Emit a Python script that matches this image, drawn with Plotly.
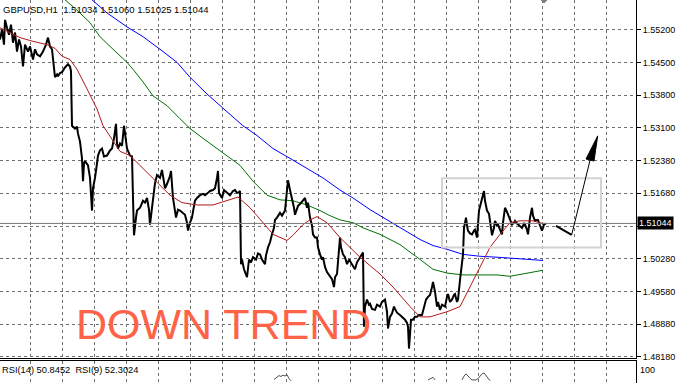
import plotly.graph_objects as go

# ---------------- data ----------------
bars = [0,2,4,5,7,9,11,13,15,17,19,21,23,25,28,30,33,35,37,40,43,46,48,50,52,53,55,57,58,60,62,65,68,70,71,72,75,77,78,80,82,83,84,85,88,90,92,93,95,97,98,100,102,104,107,110,112,114,116,117,118,120,122,124,126,127,130,132,133,134,136,137,140,143,145,147,149,150,152,153,155,157,160,162,164,165,167,168,170,171,173,176,178,180,183,185,187,188,190,192,194,195,197,200,203,205,208,210,213,215,217,218,219,222,224,225,228,230,233,235,237,238,240,241,242,244,247,249,251,253,256,258,260,262,265,266,268,270,272,274,275,277,280,282,285,287,288,290,292,294,295,297,298,300,303,305,307,308,310,312,313,315,317,318,320,322,323,325,327,329,330,332,334,335,337,338,340,341,343,345,347,349,352,355,357,360,362,363,364,365,367,369,370,372,375,377,380,382,385,387,388,390,392,394,395,397,400,402,405,407,408,409,410,411,413,415,417,419,422,424,426,428,430,432,433,435,437,438,440,442,445,447,448,450,452,454,455,457,458,460,462,463,464,465,466,467,468,470,472,474,475,477,478,479,481,482,483,484,485,487,489,490,491,492,494,495,497,498,500,502,503,505,507,508,510,512,514,515,517,518,520,522,524,525,527,528,530,532,533,535,537,538,540,542,543,544,546]

close = [1.5499,1.5520,1.5488,1.5541,1.5524,1.5509,1.5531,1.5492,1.5514,1.5473,1.5499,1.5484,1.5441,1.5488,1.5473,1.5484,1.5456,1.5478,1.5467,1.5463,
         1.5473,1.5488,1.5503,1.5484,1.5478,1.5452,1.5418,1.5424,1.5420,1.5427,1.5429,1.5439,1.5446,1.5441,1.5431,1.5314,1.5308,1.5312,1.5297,1.5280,
         1.5244,1.5195,1.5233,1.5238,1.5229,1.5202,1.5132,1.5180,1.5202,1.5233,1.5250,1.5261,1.5265,1.5248,1.5250,1.5261,1.5265,1.5287,1.5318,1.5276,
         1.5265,1.5276,1.5271,1.5314,1.5287,1.5265,1.5250,1.5248,1.5159,1.5079,1.5117,1.5132,1.5138,1.5153,1.5149,1.5159,1.5134,1.5102,1.5138,1.5159,
         1.5191,1.5208,1.5202,1.5219,1.5191,1.5180,1.5189,1.5195,1.5206,1.5217,1.5159,1.5117,1.5134,1.5132,1.5127,1.5123,1.5106,1.5089,1.5106,1.5117,
         1.5142,1.5153,1.5159,1.5165,1.5168,1.5165,1.5170,1.5174,1.5176,1.5180,1.5202,1.5217,1.5170,1.5159,1.5176,1.5174,1.5170,1.5165,1.5174,1.5176,
         1.5170,1.5170,1.5174,1.5017,1.5027,1.5006,1.4989,1.5027,1.5021,1.5032,1.5027,1.5040,1.5038,1.5027,1.5017,1.5036,1.5053,1.5064,1.5081,1.5095,
         1.5112,1.5117,1.5127,1.5121,1.5132,1.5170,1.5197,1.5176,1.5159,1.5138,1.5123,1.5138,1.5142,1.5146,1.5153,1.5159,1.5138,1.5149,1.5117,1.5100,
         1.5081,1.5074,1.5074,1.5053,1.5038,1.5027,1.5032,1.5011,1.5000,1.4994,1.4989,1.4985,1.4968,1.4989,1.4996,1.5021,1.5074,1.5053,1.5038,1.5032,
         1.5017,1.5027,1.5017,1.5006,1.5021,1.5032,1.5038,1.5042,1.4883,1.4926,1.4941,1.4930,1.4932,1.4921,1.4919,1.4930,1.4926,1.4936,1.4941,1.4915,
         1.4879,1.4904,1.4911,1.4926,1.4921,1.4913,1.4908,1.4904,1.4898,1.4891,1.4883,1.4836,1.4872,1.4898,1.4898,1.4904,1.4904,1.4908,1.4908,1.4926,
         1.4941,1.4947,1.4951,1.4968,1.4979,1.4958,1.4926,1.4936,1.4919,1.4930,1.4926,1.4947,1.4953,1.4936,1.4941,1.4951,1.4953,1.4936,1.4941,1.4983,
         1.5021,1.5038,1.5095,1.5106,1.5117,1.5100,1.5089,1.5083,1.5081,1.5089,1.5091,1.5074,1.5100,1.5132,1.5149,1.5159,1.5170,1.5174,1.5153,1.5132,
         1.5125,1.5112,1.5095,1.5079,1.5095,1.5110,1.5100,1.5102,1.5091,1.5081,1.5106,1.5138,1.5129,1.5123,1.5112,1.5102,1.5106,1.5110,1.5104,1.5102,
         1.5098,1.5095,1.5104,1.5102,1.5091,1.5081,1.5117,1.5138,1.5121,1.5110,1.5112,1.5112,1.5100,1.5089,1.5095,1.5102,1.51044]

ma_red_x = [0,10,20,33,47,55,62,70,77,87,97,103,113,120,130,140,150,160,170,182,197,213,227,238,247,250,257,263,273,287,293,303,310,317,327,340,350,360,380,393,410,420,430,447,460,470,480,490,500,510,520,533,543]
ma_red = [1.5524,1.5514,1.5503,1.5495,1.5488,1.5480,1.5463,1.5456,1.5435,1.5393,1.5350,1.5314,1.5280,1.5259,1.5250,1.5229,1.5208,1.5187,1.5165,1.5149,
          1.5144,1.5144,1.5153,1.5161,1.5144,1.5138,1.5121,1.5106,1.5081,1.5068,1.5079,1.5102,1.5112,1.5119,1.5106,1.5074,1.5053,1.5032,1.4996,1.4968,
          1.4926,1.4904,1.4904,1.4915,1.4926,1.4968,1.5011,1.5053,1.5081,1.5106,1.5110,1.5110,1.5104]

ma_green_x = [65,77,90,100,113,127,133,143,153,167,180,190,203,217,230,240,253,267,280,293,307,320,330,340,353,363,380,400,417,433,447,463,480,497,510,523,533,543]
ma_green = [1.5584,1.5562,1.5535,1.5505,1.5478,1.5450,1.5435,1.5408,1.5378,1.5357,1.5329,1.5308,1.5287,1.5265,1.5244,1.5229,1.5195,1.5165,1.5155,1.5153,
            1.5144,1.5132,1.5121,1.5112,1.5106,1.5095,1.5081,1.5059,1.5032,1.5006,1.4998,1.4994,1.4994,1.4994,1.4991,1.4996,1.5000,1.5004]

ma_blue_x = [92,107,127,143,160,177,190,207,227,243,257,273,290,307,323,340,353,370,387,403,420,433,447,463,480,497,513,527,543]
ma_blue = [1.5584,1.5556,1.5526,1.5505,1.5478,1.5450,1.5418,1.5382,1.5344,1.5314,1.5293,1.5265,1.5244,1.5223,1.5202,1.5176,1.5159,1.5134,1.5112,1.5091,
           1.5070,1.5057,1.5049,1.5038,1.5034,1.5032,1.5030,1.5027,1.5025]

rsi_x = [274,277,279,281,283,285,287,289,291,None,428,431,433,435,None,462,464,466,468,470,472,476,478,480,482,484,486,488,490]
rsi = [58,64,67,65,68,66,69,60,55,None,57,61,63,57,None,57,66,71,65,61,57,57,60,66,71,73,66,60,55]

tick_vals = [1.55200,1.54498,1.53796,1.53094,1.52392,1.51690,1.50988,1.50286,1.49584,1.48882,1.48180]
tick_text = ["1.55200","1.54500","1.53800","1.53100","1.52380","1.51680","","1.50280","1.49580","1.48880","1.48180"]

last_price = 1.51044
header = "GBPUSD,H1  1.51034 1.51060 1.51025 1.51044"
rsi_label = "RSI(14) 50.8452  RSI(9) 52.3024"
trend_label = "DOWN TREND"

# drawing objects (bar, price)
box = [(442, 1.52016), (601, 1.50530)]
stroke = [(556, 1.50991), (571.7, 1.50800)]
arrow_line = [(571.7, 1.50800), (590, 1.52398)]
arrow_head = [(597.7, 1.52922), (586, 1.52426), (594, 1.52383)]

# ---------------- figure ----------------
W, H = 677, 387
PLOT_R = 636
MAIN_BOTTOM = 362
SUB_TOP = 365
FONT = "Tahoma, Liberation Sans, Arial, sans-serif"
GRID = "#6f6f6f"

fig = go.Figure()

fig.add_trace(go.Scatter(x=ma_blue_x, y=ma_blue, mode="lines", line=dict(color="#0000ff", width=1), hoverinfo="skip"))
fig.add_trace(go.Scatter(x=ma_green_x, y=ma_green, mode="lines", line=dict(color="#007000", width=1), hoverinfo="skip"))
fig.add_trace(go.Scatter(x=bars, y=close, mode="lines", line=dict(color="#000000", width=2), hoverinfo="skip"))
fig.add_trace(go.Scatter(x=ma_red_x, y=ma_red, mode="lines", line=dict(color="#b01818", width=1), hoverinfo="skip"))
fig.add_trace(go.Scatter(x=rsi_x, y=rsi, mode="lines", line=dict(color="#505050", width=1),
                         xaxis="x2", yaxis="y2", hoverinfo="skip", connectgaps=False))

main_dom = [(H - MAIN_BOTTOM) / H, 1]
sub_dom = [0, (H - SUB_TOP) / H]

fig.update_layout(
    width=W, height=H,
    margin=dict(l=0, r=W - PLOT_R, t=0, b=0, pad=0),
    paper_bgcolor="white", plot_bgcolor="white",
    showlegend=False,
    xaxis=dict(range=[0, PLOT_R], domain=[0, 1], showticklabels=False, ticks="",
               showgrid=True, gridcolor=GRID, griddash="3px,3px", gridwidth=1,
               tick0=30.7, dtick=31.97, zeroline=False,
               showline=True, linecolor="black", linewidth=1, anchor="y"),
    yaxis=dict(range=[1.48152, 1.55837], domain=main_dom, side="right",
               tickmode="array", tickvals=tick_vals, ticktext=tick_text,
               ticks="outside", ticklen=4, tickcolor="black", tickwidth=1,
               tickfont=dict(family=FONT, size=9, color="black"),
               showgrid=True, gridcolor=GRID, griddash="3px,3px", gridwidth=1,
               zeroline=False, showline=True, linecolor="black", linewidth=1, anchor="x"),
    xaxis2=dict(range=[0, PLOT_R], domain=[0, 1], showticklabels=False, ticks="",
                showgrid=True, gridcolor=GRID, griddash="3px,3px", gridwidth=1,
                tick0=30.7, dtick=31.97, zeroline=False, side="top",
                showline=True, linecolor="black", linewidth=1, anchor="y2"),
    yaxis2=dict(range=[50, 100], domain=sub_dom, side="right", showticklabels=False,
                ticks="", showgrid=False, zeroline=False,
                showline=True, linecolor="black", linewidth=1, anchor="x2"),
)

shapes = []
shapes.append(dict(type="line", xref="x", yref="y", x0=0, x1=PLOT_R, y0=last_price, y1=last_price,
                   line=dict(color="#7a7a7a", width=1)))
shapes.append(dict(type="rect", xref="x", yref="y", x0=box[0][0], x1=box[1][0], y0=box[0][1], y1=box[1][1],
                   line=dict(color="#d3d3d3", width=2), fillcolor="rgba(0,0,0,0)"))
shapes.append(dict(type="line", xref="x", yref="y", x0=stroke[0][0], y0=stroke[0][1], x1=stroke[1][0], y1=stroke[1][1],
                   line=dict(color="black", width=2)))
shapes.append(dict(type="line", xref="x", yref="y", x0=arrow_line[0][0], y0=arrow_line[0][1],
                   x1=arrow_line[1][0], y1=arrow_line[1][1], line=dict(color="black", width=1)))
hp = "M {},{} L {},{} L {},{} Z".format(arrow_head[0][0], arrow_head[0][1], arrow_head[1][0], arrow_head[1][1],
                                        arrow_head[2][0], arrow_head[2][1])
shapes.append(dict(type="path", xref="x", yref="y", path=hp, fillcolor="black", line=dict(color="black", width=1)))
shapes.append(dict(type="path", xref="x", yref="paper", path="M 541,1 L 547,1 L 544,0.992 Z",
                   fillcolor="#808080", line=dict(color="#808080", width=1)))
fig.update_layout(shapes=shapes)

ann = []
ann.append(dict(text=header, xref="paper", yref="paper", x=0, y=1, xanchor="left", yanchor="top",
                xshift=1, yshift=-2, showarrow=False, font=dict(family=FONT, size=9.5, color="black")))
ann.append(dict(text="{:.5f}".format(last_price), xref="paper", yref="y", x=1, y=last_price,
                xanchor="left", yanchor="middle", xshift=1, showarrow=False, bgcolor="black", borderpad=1,
                font=dict(family=FONT, size=9, color="white")))
ann.append(dict(text=trend_label, xref="x", yref="y", x=74, y=1.48895, xanchor="left", yanchor="middle",
                showarrow=False, font=dict(family="Liberation Sans, Arial, sans-serif", size=43, color="#ff6347")))
ann.append(dict(text=rsi_label, xref="paper", yref="paper", x=0, y=(H - 374) / H, xanchor="left", yanchor="middle",
                xshift=0, showarrow=False, font=dict(family=FONT, size=9.3, color="black")))
ann.append(dict(text="100", xref="paper", yref="paper", x=1, y=(H - 374) / H, xanchor="left", yanchor="middle",
                xshift=2, showarrow=False, font=dict(family=FONT, size=9, color="black")))
fig.update_layout(annotations=ann)

fig.write_html("out.html", config={"displayModeBar": False, "staticPlot": True},
               post_script="document.body.style.margin='0px';document.body.style.overflow='hidden';")
